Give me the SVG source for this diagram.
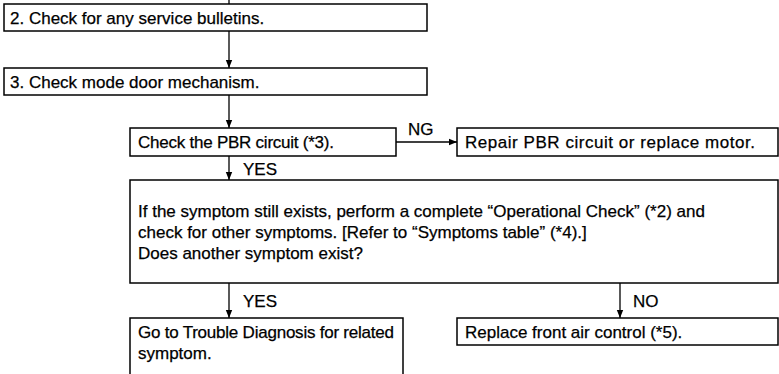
<svg xmlns="http://www.w3.org/2000/svg" width="779" height="374" viewBox="0 0 779 374">
<defs>
<marker id="ah" viewBox="0 0 10 10" refX="10" refY="5" markerWidth="8" markerHeight="8" orient="auto" markerUnits="userSpaceOnUse">
<path d="M0,1 L10,5 L0,9 z" fill="#000"/>
</marker>
<style>
.box{fill:#fff;stroke:#000;stroke-width:1.5}
.t{font-family:"Liberation Sans",Arial,Helvetica,sans-serif;font-size:17px;fill:#000;stroke:#000;stroke-width:0.25}
.c{stroke:#000;stroke-width:1.3;fill:none}
</style>
</defs>
<rect width="779" height="374" fill="#fff"/>
<g id="connectors">
<line class="c" x1="229" y1="0" x2="229" y2="4"/>
<line class="c" x1="229" y1="31" x2="229" y2="68" marker-end="url(#ah)"/>
<line class="c" x1="229" y1="95" x2="229" y2="128" marker-end="url(#ah)"/>
<line class="c" x1="396" y1="142" x2="457" y2="142" marker-end="url(#ah)"/>
<line class="c" x1="229" y1="156" x2="229" y2="180" marker-end="url(#ah)"/>
<line class="c" x1="229" y1="283" x2="229" y2="318" marker-end="url(#ah)"/>
<line class="c" x1="620" y1="283" x2="620" y2="318" marker-end="url(#ah)"/>
<text class="t" x="408" y="135">NG</text>
<text class="t" x="243" y="175">YES</text>
<text class="t" x="243" y="307">YES</text>
<text class="t" x="633" y="307">NO</text>
</g>
<g id="n2">
<rect class="box" x="4" y="4" width="423" height="27"/>
<text class="t" x="10" y="23.5">2. Check for any service bulletins.</text>
</g>
<g id="n3">
<rect class="box" x="4" y="68" width="423" height="27"/>
<text class="t" x="10" y="87.5">3. Check mode door mechanism.</text>
</g>
<g id="pbr">
<rect class="box" x="130" y="128" width="266" height="28"/>
<text class="t" x="138" y="148" textLength="196" lengthAdjust="spacing">Check the PBR circuit (*3).</text>
</g>
<g id="repair">
<rect class="box" x="457" y="128" width="321" height="28"/>
<text class="t" x="465" y="148" textLength="290" lengthAdjust="spacing">Repair PBR circuit or replace motor.</text>
</g>
<g id="symptom">
<rect class="box" x="130" y="180" width="648" height="103"/>
<text class="t" x="138" y="217">If the symptom still exists, perform a complete “Operational Check” (*2) and</text>
<text class="t" x="138" y="238">check for other symptoms. [Refer to “Symptoms table” (*4).]</text>
<text class="t" x="138" y="259">Does another symptom exist?</text>
</g>
<g id="goto">
<rect class="box" x="130" y="318" width="273" height="60"/>
<text class="t" x="138" y="338" textLength="256" lengthAdjust="spacing">Go to Trouble Diagnosis for related</text>
<text class="t" x="138" y="359">symptom.</text>
</g>
<g id="replace">
<rect class="box" x="457" y="318" width="321" height="27"/>
<text class="t" x="465" y="337.5">Replace front air control (*5).</text>
</g>
</svg>
